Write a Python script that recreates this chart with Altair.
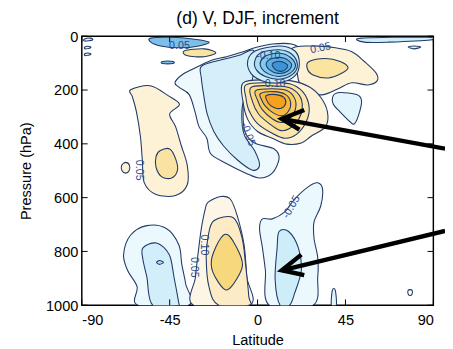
import altair as alt
import pandas as pd

W, H = 362, 277
FONT = "Liberation Sans"
LINE = "#213a68"

TITLE = "(d) V, DJF, increment"
X_TICKS = [-90, -45, 0, 45, 90]
Y_TICKS = [0, 200, 400, 600, 800, 1000]

# ---- contour regions, (latitude, pressure hPa) ----
B_OUTER = [(-42.3, 173), (-38.8, 144), (-32.3, 119), (-23.9, 90), (-15.9, 76), (-7.4, 58), (-1.5, 43),
           (7.5, 29), (17.4, 29), (22.4, 54), (22.4, 101), (17.4, 144), (7.5, 166), (-1.5, 181),
           (-6.5, 209), (-7.4, 282), (-6.5, 354), (-1.5, 397), (8.5, 419), (11, 455), (7.5, 509),
           (1, 527), (-6, 509), (-16, 473), (-24, 437), (-26, 379), (-30, 336), (-32, 282),
           (-35, 217), (-40, 191)]
B_INNER = [(-28.8, 112), (-19.9, 90), (-9.9, 72), (-1.5, 58), (-3.5, 191), (-7.4, 245), (-8, 318),
           (-6.5, 372), (-1.5, 426), (1, 480), (-2.5, 498), (-10, 462), (-17.4, 408), (-22.4, 354),
           (-25.8, 289), (-27.8, 209), (-28.8, 155)]
A_OUTER = [(-65, 199), (-55, 184), (-46, 220), (-40, 253), (-45, 289), (-42, 336), (-39, 408),
           (-36, 480), (-36, 552), (-42, 592), (-52, 588), (-58, 545), (-59, 462), (-60, 372),
           (-62, 282), (-64, 227)]
A_INNER = [(-50, 426), (-45, 419), (-42, 455), (-41, 498), (-44, 527), (-49, 523), (-52, 487), (-52, 448)]
A_DOT = [(-67.5, 469), (-65.6, 480), (-65.8, 500), (-67.5, 509), (-69.4, 500), (-69.6, 480)]
C_OUTER = [(17.4, 47), (27.4, 36), (39.8, 43), (48.3, 58), (54.7, 94), (60.7, 137), (61.2, 166),
           (56.2, 181), (48.3, 173), (41.3, 195), (33.8, 217), (26.4, 209), (21.4, 173), (19.9, 119)]
C_INNER = [(26.4, 94), (34.8, 83), (42.3, 94), (46.3, 116), (43.3, 137), (36.3, 155), (28.4, 144), (25.4, 119)]
H_BLOB = [(38.8, 220), (42.3, 209), (50.7, 217), (53.2, 238), (52.2, 282), (49.7, 325), (47.3, 318),
          (42.3, 282), (38.8, 253)]
OC0 = [(-7.4, 173), (5, 162), (17.4, 166), (26.4, 188), (32.3, 227), (35.8, 282), (34.8, 336),
       (27.4, 372), (22.4, 397), (14.9, 401), (7.5, 379), (0, 354), (-5, 310), (-7.4, 245)]
OC1 = [(-6, 181), (5, 173), (16.4, 177), (23.4, 209), (26.4, 264), (24.9, 318), (19.9, 365),
       (13.9, 379), (7.5, 361), (0, 325), (-4.5, 274), (-6, 227)]
OC2 = [(-3.5, 191), (6.5, 184), (16, 191), (21.4, 220), (22.9, 264), (21, 310), (16.4, 343),
       (11.5, 350), (6, 325), (0.5, 289), (-2.5, 245)]
OC3 = [(-1, 202), (7.5, 195), (15, 202), (19, 231), (19.4, 271), (16.4, 307), (12, 321), (7.5, 307),
       (2.5, 274), (0, 238)]
OC4 = [(1.5, 213), (8.5, 206), (14.4, 217), (16.9, 245), (15.9, 278), (12.4, 296), (8, 285), (4, 260), (2, 235)]
OC5 = [(4.5, 220), (9.5, 217), (13.4, 227), (14.4, 249), (12.4, 267), (9, 267), (6, 253), (4.5, 235)]
BC1 = [(-5, 90), (-1, 54), (11, 36), (19, 54), (21.4, 101), (19, 148), (11, 173), (2.5, 166), (-3.5, 137)]
BC2 = [(-1.5, 94), (1.5, 62), (11, 50), (17.4, 66), (20.4, 106), (17.9, 142), (11, 160), (4, 150), (-0.5, 126)]
BC3 = [(1.5, 94), (4.5, 72), (11.5, 63), (16.9, 79), (19.4, 110), (16.5, 138), (11, 150), (5.5, 140), (2, 119)]
BC4 = [(4.5, 99), (8, 82), (13.4, 81), (17.4, 104), (15.4, 130), (10.5, 138), (6, 124)]
BC5 = [(7.5, 103), (11.4, 93), (15.4, 108), (13.4, 128), (9.5, 126)]
D_TOPBLUE = [(-54.7, 7), (-44.7, 4), (-32.3, 11), (-24.9, 22), (-30, 36), (-39.8, 43), (-49.7, 36), (-54.7, 22)]
D_TOPYEL = [(-37.3, 54), (-27.3, 47), (-21.4, 61), (-27.3, 76), (-36.3, 72)]
D_DASH = [(-48.7, 94), (-43.3, 94), (-43.3, 101), (-48.7, 101)]
D_RIGHT = [(53.2, 7), (87, 4), (88.5, 14), (67.1, 22), (54.7, 22)]
D_ROVAL = [(77.1, 40), (80, 36), (83.6, 40), (80, 47)]
D_L1 = [(-88.8, 11), (-85.5, 7), (-84.5, 14), (-88.5, 18)]
D_L2 = [(-88.5, 40), (-86, 38), (-85.5, 43), (-88.3, 47)]
D_L3 = [(-88.5, 65), (-86, 63), (-85.5, 68), (-88.3, 72)]
E0 = [(-68.6, 812), (-65.1, 740), (-56.7, 704), (-46.7, 715), (-40.3, 776), (-38.8, 848), (-36.8, 921),
      (-35.3, 1000), (-61.2, 1000), (-61.7, 931), (-66.6, 870)]
E1 = [(-58.7, 787), (-51.7, 769), (-45.2, 812), (-42.8, 895), (-40.3, 993), (-40.3, 1000), (-53.7, 1000),
      (-56.7, 895), (-58.7, 830)]
E2 = [(-51.7, 841), (-50.2, 834), (-48.2, 841), (-50.2, 848)]
F0 = [(-26.8, 643), (-25.3, 617), (-18.9, 596), (-13.9, 606), (-10.4, 668), (-6.9, 776), (-5.5, 895),
      (-4, 1000), (-32.8, 1000), (-31.8, 895), (-30.3, 798), (-28.8, 715)]
F1 = [(-22.4, 686), (-12.4, 675), (-7.9, 751), (-6, 859), (-4.5, 967), (-4.5, 1000), (-19.9, 1000),
      (-24.9, 931), (-26.3, 823), (-25.3, 744)]
F2 = [(-18.9, 751), (-14.9, 740), (-9.4, 805), (-7.9, 859), (-13.4, 931), (-17.4, 938), (-22.9, 877), (-23.4, 823)]
G0 = [(30.8, 545), (33.3, 570), (32.3, 632), (28.9, 690), (28.9, 751), (30.8, 823), (30.8, 895),
      (28.4, 1000), (6, 1000), (4, 870), (2.5, 787), (1, 715), (2.5, 679), (7.5, 679), (13.9, 653),
      (18.9, 606), (25.9, 560)]
G1 = [(11, 726), (15.9, 726), (20.9, 787), (22.4, 870), (18.9, 957), (16.4, 1000), (11.5, 1000),
      (9, 906), (10, 787)]
SPIKE = [(38.3, 945), (39.8, 945), (40.3, 1000), (37.8, 1000)]
R_OVAL = [(77.0, 946), (78.1, 942), (79.2, 946), (79.0, 960), (78.1, 964), (77.2, 960)]

# drawing order (outer first) and fill colour of each region
REGIONS = [
    ("B_OUTER", B_OUTER, "#eef9fd"), ("B_INNER", B_INNER, "#d4effa"),
    ("A_OUTER", A_OUTER, "#fdf1d6"), ("A_INNER", A_INNER, "#fae3a2"), ("A_DOT", A_DOT, "#fdf1d6"),
    ("C_OUTER", C_OUTER, "#fdf1d6"), ("C_INNER", C_INNER, "#fbe3a0"), ("H_BLOB", H_BLOB, "#e3f5fc"),
    ("OC0", OC0, "#fdf1d6"), ("OC1", OC1, "#fce6ac"), ("OC2", OC2, "#fbda86"),
    ("OC3", OC3, "#f9cb60"), ("OC4", OC4, "#f8b83f"), ("OC5", OC5, "#f6a11d"),
    ("BC1", BC1, "#cdedf9"), ("BC2", BC2, "#a8ddf4"), ("BC3", BC3, "#80c8ee"),
    ("BC4", BC4, "#5aaee2"), ("BC5", BC5, "#3d93d3"),
    ("D_TOPBLUE", D_TOPBLUE, "#7cbfe9"), ("D_TOPYEL", D_TOPYEL, "#fbe3a0"), ("D_DASH", D_DASH, "#7cbfe9"),
    ("D_RIGHT", D_RIGHT, "#cdedf9"), ("D_ROVAL", D_ROVAL, "#e3f5fc"),
    ("D_L1", D_L1, "#e3f5fc"), ("D_L2", D_L2, "#e3f5fc"), ("D_L3", D_L3, "#e3f5fc"),
    ("E0", E0, "#ebf8fd"), ("E1", E1, "#d2eefa"), ("E2", E2, "#b0e0f5"),
    ("F0", F0, "#fdf6e6"), ("F1", F1, "#fcebc4"), ("F2", F2, "#f8d87c"),
    ("G0", G0, "#ebf8fd"), ("G1", G1, "#cdedf9"),
    ("SPIKE", SPIKE, "#e3f5fc"), ("R_OVAL", R_OVAL, "#ffffff"),
]

# contour labels: text, lat, pressure, angle
LABELS = [("0.05", -40, 36, 0), ("0.05", 32.3, 45, -12), ("-0.10", 5.5, 72, 0), ("0.10", 9, 177, 0),
          ("-0.05", -5, 365, 70), ("0.05", -60.7, 498, 90), ("-0.05", 17.4, 635, -60),
          ("0.10", -27.3, 776, 90), ("0.05", -32.8, 859, 90)]

# annotation arrows: segment id, lat, pressure (shaft, then barb-tip-barb)
ARROWS = [
    ("a1s", 12.4, 307), ("a1s", 96, 418),
    ("a1h", 23.9, 274), ("a1h", 12.4, 307), ("a1h", 21.4, 347),
    ("a2s", 12.4, 870), ("a2s", 96, 724),
    ("a2h", 22.4, 812), ("a2h", 12.4, 870), ("a2h", 23.9, 888),
]

xs = alt.Scale(domain=[-90, 90], nice=False, zero=False)
ys = alt.Scale(domain=[0, 1000], nice=False, zero=False, reverse=True)

X_AX = alt.Axis(values=X_TICKS, title="Latitude", grid=False, ticks=False, domain=False,
                labelPadding=8, titlePadding=5, labelExpr="'' + datum.value")
Y_AX = alt.Axis(values=Y_TICKS, title="Pressure (hPa)", grid=False, ticks=False, domain=False,
                labelPadding=4, titlePadding=12, labelExpr="'' + datum.value")


def xenc():
    return alt.X("lat:Q", scale=xs, axis=X_AX)


def yenc():
    return alt.Y("p:Q", scale=ys, axis=Y_AX)


layers = []
for name, pts, col in REGIONS:
    df = pd.DataFrame({"lat": [a for a, b in pts], "p": [b for a, b in pts], "i": list(range(len(pts)))})
    layers.append(
        alt.Chart(df).mark_line(fill=col, stroke=LINE, strokeWidth=1.1, interpolate="cardinal-closed", clip=True)
        .encode(x=xenc(), y=yenc(), order=alt.Order("i:Q"))
    )

lab_df = pd.DataFrame(LABELS, columns=["t", "lat", "p", "ang"])
lab_layers = []
for ang in sorted(set(lab_df["ang"])):
    sub = lab_df[lab_df["ang"] == ang]
    lab_layers.append(
        alt.Chart(sub).mark_text(font=FONT, fontSize=11, color="#2b4a8b", angle=float(ang) % 360)
        .encode(x=xenc(), y=yenc(), text="t:N")
    )

arr_df = pd.DataFrame(ARROWS, columns=["seg", "lat", "p"])
arr_df["i"] = range(len(arr_df))
arrows = alt.Chart(arr_df).mark_line(color="black", strokeWidth=4.5, clip=False, strokeJoin="miter",
                                     strokeCap="butt").encode(
    x=xenc(), y=yenc(), detail="seg:N", order=alt.Order("i:Q"))

xt = pd.DataFrame({"lat": X_TICKS})
yt = pd.DataFrame({"p": Y_TICKS})
tick_bot = alt.Chart(xt).mark_rule(color="black", strokeWidth=1).encode(
    x=xenc(), y=alt.value(H - 6), y2=alt.value(H))
tick_top = alt.Chart(xt).mark_rule(color="black", strokeWidth=1).encode(
    x=xenc(), y=alt.value(0), y2=alt.value(6))
tick_left = alt.Chart(yt).mark_rule(color="black", strokeWidth=1).encode(
    y=yenc(), x=alt.value(0), x2=alt.value(6))
tick_right = alt.Chart(yt).mark_rule(color="black", strokeWidth=1).encode(
    y=yenc(), x=alt.value(W - 6), x2=alt.value(W))

chart = alt.layer(*layers, *lab_layers, tick_bot, tick_top, tick_left, tick_right, arrows).properties(
    width=W, height=H,
    title=alt.Title(TITLE, fontSize=18, font=FONT, fontWeight="normal", offset=2, color="black",
                    frame="group", anchor="middle"),
    padding={"left": 76, "top": 24, "right": 12, "bottom": 40},
    autosize="none",
).configure_view(stroke="black", strokeWidth=1.5).configure_axis(
    labelFont=FONT, titleFont=FONT, labelFontSize=15, titleFontSize=15, labelColor="black",
    titleColor="black", titleFontWeight="normal")

chart.save("out.html", embed_options={"renderer": "svg", "actions": False})
